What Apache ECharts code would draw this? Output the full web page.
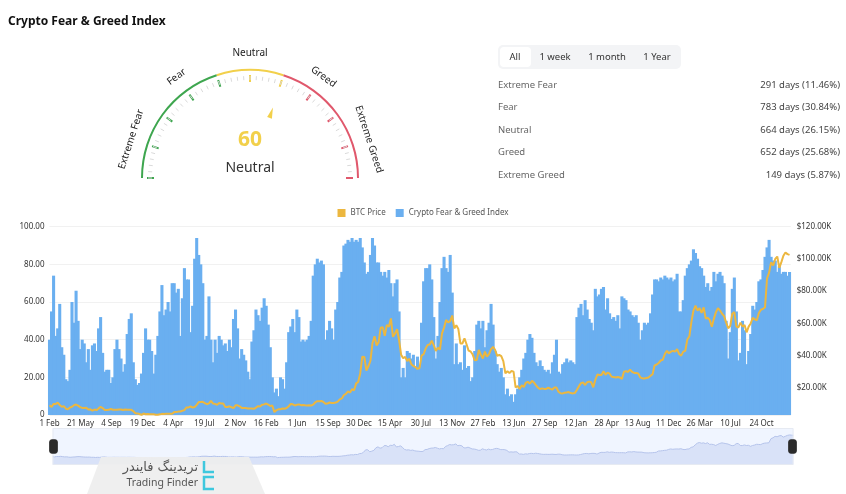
<!DOCTYPE html>
<html><head><meta charset="utf-8">
<style>html,body{margin:0;padding:0;background:#fff;}#chart{width:846px;height:494px;}</style>
<script src="https://cdn.jsdelivr.net/npm/echarts/dist/echarts.min.js"></script>
</head><body><div id="chart"></div>
<script>
// ---------- DATA ----------
const chartTitle = 'Crypto Fear & Greed Index';
const tickLabels = ['1 Feb','21 May','4 Sep','19 Dec','4 Apr','19 Jul','2 Nov','16 Feb','1 Jun','15 Sep','30 Dec','15 Apr','30 Jul','13 Nov','27 Feb','13 Jun','27 Sep','12 Jan','28 Apr','13 Aug','11 Dec','26 Mar','10 Jul','24 Oct'];
const SAMPLE_STEP = 7;      // one sample every 7 daily records
const TICK_STEP = 106;      // one tick label every 106 daily records
const LAST_RECORD = 2538;

const fearGreed = [
40,55,74,42,46,59,36,32,19,18, 24,60,49,66,50,35,40,38,28,35, 24,37,38,34,46,52,33,23,24,24,
17,20,35,40,35,30,23,27,43,51, 54,28,19,16,17,22,33,46,40,40, 34,22,32,42,55,69,53,56,60,55,
70,70,65,67,42,62,78,72,72,44, 58,83,94,85,80,70,40,42,63,40, 28,40,33,42,40,37,38,34,40,36,
51,56,46,30,35,32,29,23,19,39, 45,56,53,50,57,62,58,48,36,20, 12,14,10,20,19,14,28,44,47,51,
44,
56,52,39,40,39,40,42,50,74,80, 83,81,82,80,40,45,50,46,40,56, 60,73,76,90,91,93,92,94,92,93,
92,94,89,81,75,76,85,94,90,81, 81,76,74,76,73,77,70,63,70,72, 55,20,25,20,34,33,30,32,25,31,
26,
49,71,78,78,80,72,52,30,42,60, 78,84,78,76,85,65,27,38,27,28, 24,37,25,26,18,20,34,48,50,46,
50,36,45,49,59,48,34,27,23,25, 20,11,14,10,11,7,11,14,20,24, 30,33,40,43,41,33,28,26,29,26,
24,
23,24,22,28,32,40,23,22,27,28, 30,28,29,28,27,52,57,59,53,61, 56,51,49,45,67,63,64,67,68,56,
62,54,51,52,50,53,46,63,62,61, 56,55,53,52,53,49,40,45,49,48, 49,54,64,72,72,71,73,72,74,73,
72,73,71,72,75,55,55,61,74,78, 80,82,88,86,83,79,78,74,68,70, 66,68,76,71,75,76,74,70,50,30,
44,67,73,55,29,33,50,45,27,34, 43,58,56,60,71,72,77,84,89,93, 84,82,82,76,79,75,76,76,74,76
];

const btcPriceK = [
9.2,8.2,10.1,10.0,10.9,9.4,8.3,8.7,7.1,6.8, 7.9,8.3,9.3,9.7,9.0,8.1,7.6,7.5,7.7,6.6,
6.7,5.9,6.6,6.2,7.3,8.2,7.5,6.3,6.3,6.4, 6.9,6.5,6.5,6.4,6.6,6.6,6.3,6.6,6.5,6.4,
6.4,5.6,4.3,4.2,3.8,3.3,4.1,3.7,3.8,3.6, 3.6,3.6,3.4,3.4,3.6,3.9,3.8,3.9,3.9,4.0,
4.0,5.0,5.0,5.3,5.4,5.8,6.2,7.9,7.9,8.6, 7.8,8.2,9.5,11.2,11.2,11.4,10.6,9.9,10.4,11.9,
10.3,10.1,9.5,10.6,10.4,10.3,8.1,8.2,8.6,8.0, 7.5,9.2,9.2,8.6,7.6,7.5,7.5,7.2,7.2,7.2,
7.0,7.8,8.7,8.4,9.5,9.8,10.3,9.6,8.8,9.1, 5.0,6.2,6.7,6.8,7.3,7.1,7.5,8.6,10.0,9.8,
9.1,
9.5,9.8,9.3,9.4,9.2,9.1,9.2,9.1,9.6,11.1, 11.8,11.8,11.9,11.3,10.2,10.3,11.0,10.7,10.6,10.9,
11.5,12.9,13.5,15.6,16.3,17.8,17.1,19.2,18.5,22.8, 23.7,29.0,39.4,39.2,30.8,33.4,36.9,47.9,52.1,46.3,
48.4,57.3,57.7,52.3,59.0,58.0,63.1,51.7,53.6,56.4, 49.7,40.6,38.4,39.2,36.7,38.1,34.7,33.6,32.9,31.8,
32.3,
40.0,40.9,44.4,46.7,46.9,49.3,46.4,43.0,44.9,43.8, 53.8,57.4,62.2,60.6,61.4,64.9,56.9,58.9,56.5,47.6,
47.6,50.8,47.1,43.1,42.6,40.7,37.2,37.3,43.6,40.5, 38.3,42.5,39.4,40.9,44.0,45.5,43.5,39.9,40.5,39.7,
36.6,29.0,30.3,29.2,30.5,30.1,20.4,21.1,19.3,21.6, 20.6,23.2,23.8,22.6,24.4,23.3,21.6,20.1,19.3,19.7,
19.4,
19.4,20.2,19.4,19.0,20.3,20.2,17.6,16.7,16.6,17.0, 17.2,17.4,16.8,16.6,16.9,18.8,21.1,23.0,23.4,21.8,
23.5,23.9,23.5,20.4,25.0,28.3,28.0,28.0,30.4,28.2, 29.5,28.8,26.9,26.8,26.5,26.8,26.5,25.6,30.0,30.4,
29.9,31.4,29.9,29.3,29.2,29.0,26.5,26.0,25.8,26.2, 26.5,27.5,28.5,34.0,34.5,35.5,37.0,37.5,41.0,43.0,
41.5,42.5,43.0,42.5,44.0,41.0,40.0,42.5,43.0,50.0, 52.0,61.0,68.0,71.0,68.0,69.5,66.5,70.0,63.0,63.5,
62.0,58.0,63.0,67.0,69.5,68.0,66.0,64.5,60.5,57.0, 58.5,66.0,67.0,58.0,57.5,60.5,58.0,59.0,54.5,58.0,
60.0,63.5,62.5,62.0,66.5,68.5,69.0,70.0,88.0,91.5, 98.0,96.0,100.0,101.5,94.5,98.0,102.0,104.0,103.0,102.5
];

const seriesNames = ['BTC Price', 'Crypto Fear & Greed Index'];
const gaugeValue = 60;
const gaugeState = 'Neutral';
const gaugeBands = [[0.4, '#3ea64f'], [0.6, '#f2d04b'], [1, '#e0586c']];
const gaugeZoneLabels = {10: 'Extreme Fear', 30: 'Fear', 50: 'Neutral', 70: 'Greed', 90: 'Extreme Greed'};
const tabLabels = ['All', '1 week', '1 month', '1 Year'];
const zoneNames = ['Extreme Fear', 'Fear', 'Neutral', 'Greed', 'Extreme Greed'];
const zoneDays = [291, 783, 664, 652, 149];
const zonePcts = ['11.46', '30.84', '26.15', '25.68', '5.87'];
const watermarkFa = 'تریدینگ فایندر';
const watermarkEn = 'Trading Finder';

// ---------- CHART ----------
const FONT = "'Noto Sans', 'Open Sans', 'DejaVu Sans', sans-serif";
const chart = echarts.init(document.getElementById('chart'), null, {renderer: 'canvas'});

const tabCenters = [515, 555, 607, 657];
const graphics = [
  {type: 'rect', shape: {x: 498, y: 45, width: 183, height: 24, r: 5}, style: {fill: '#f3f4f6'}},
  {type: 'rect', shape: {x: 500, y: 47, width: 31, height: 20, r: 4}, style: {fill: '#ffffff'}}
];
tabLabels.forEach((t, k) => graphics.push({type: 'text', x: tabCenters[k], y: 57,
  style: {text: t, align: 'center', verticalAlign: 'middle', fontSize: 9.5, fill: '#333', fontFamily: FONT}}));
zoneNames.forEach((n, k) => {
  const y = 85 + k * 22.5;
  graphics.push({type: 'text', x: 498, y: y, style: {text: n, verticalAlign: 'middle', fontSize: 9.5, fill: '#666', fontFamily: FONT}});
  graphics.push({type: 'text', x: 840, y: y, style: {text: zoneDays[k] + ' days (' + zonePcts[k] + '%)', align: 'right', verticalAlign: 'middle', fontSize: 9.5, fill: '#444', fontFamily: FONT}});
});
// watermark overlay
graphics.push({type: 'polygon', z: 100, shape: {points: [[101, 457], [249, 457], [265, 494], [87, 494]]}, style: {fill: 'rgba(238,238,238,0.95)'}});
graphics.push({type: 'text', z: 101, x: 198, y: 468, style: {text: watermarkFa, align: 'right', verticalAlign: 'middle', fontSize: 13, fill: '#555', fontFamily: "'DejaVu Sans', sans-serif"}});
graphics.push({type: 'text', z: 101, x: 198, y: 483, style: {text: watermarkEn, align: 'right', verticalAlign: 'middle', fontSize: 10.5, fill: '#555', fontFamily: FONT}});
graphics.push({type: 'polyline', z: 101, shape: {points: [[204, 461], [204, 472], [214, 472]]}, style: {stroke: '#3ec8de', lineWidth: 2.5, fill: null}});
graphics.push({type: 'polyline', z: 101, shape: {points: [[214, 477], [204, 477], [204, 489], [214, 489]]}, style: {stroke: '#3ec8de', lineWidth: 2.5, fill: null}});

const option = {
  animation: false,
  textStyle: {fontFamily: FONT},
  title: {text: chartTitle, left: 8, top: 16, padding: 0, textStyle: {fontSize: 12, fontWeight: 'bold', color: '#111', fontFamily: FONT}},
  legend: {data: seriesNames, top: 204, left: 'center', icon: 'rect', itemWidth: 8, itemHeight: 8, itemGap: 10,
    textStyle: {fontSize: 8, color: '#555'}},
  grid: {left: 49.5, right: 55.3, top: 226.7, bottom: 79},
  xAxis: {type: 'value', min: 0, max: LAST_RECORD, interval: TICK_STEP,
    axisLine: {show: false}, axisTick: {show: false}, splitLine: {show: false},
    axisLabel: {fontSize: 8, color: '#333', margin: 5, showMaxLabel: false,
      formatter: v => (v % TICK_STEP === 0 && tickLabels[v / TICK_STEP]) ? tickLabels[v / TICK_STEP] : ''}},
  yAxis: [
    {type: 'value', min: 0, max: 100, interval: 20,
      axisLine: {show: false}, axisTick: {show: false},
      splitLine: {lineStyle: {color: '#f1f1f1'}},
      axisLabel: {fontSize: 8, color: '#333', margin: 5, formatter: v => v === 0 ? '0' : v.toFixed(2)}},
    {type: 'value', min: 3.2, max: 120, splitNumber: 5, position: 'right',
      axisLine: {show: false}, axisTick: {show: false}, splitLine: {show: false},
      axisLabel: {fontSize: 8, color: '#333', margin: 6, showMinLabel: false, formatter: v => '$' + v.toFixed(2) + 'K'}}
  ],
  dataZoom: [{type: 'slider', xAxisIndex: 0, left: 50, right: 55, top: 428, height: 37,
    start: 0, end: 100, showDetail: false, brushSelect: false, moveHandleSize: 0,
    borderColor: '#e6eaf2', backgroundColor: 'rgba(0,0,0,0)', fillerColor: 'rgba(135,175,274,0.12)',
    handleIcon: 'path://M2,0h4a2,2,0,0,1,2,2v10a2,2,0,0,1-2,2h-4a2,2,0,0,1-2-2v-10a2,2,0,0,1,2-2zM4,3v8',
    handleSize: '36%', handleStyle: {color: '#2b2b2b', borderColor: '#2b2b2b'},
    dataBackground: {lineStyle: {color: '#bcc7e8', width: 1}, areaStyle: {color: '#d3dbf2', opacity: 0.6}},
    selectedDataBackground: {lineStyle: {color: '#bcc7e8', width: 1}, areaStyle: {color: '#d3dbf2', opacity: 0.6}}
  }],
  graphic: graphics,
  series: [
    {name: seriesNames[0], type: 'line', xAxisIndex: 0, yAxisIndex: 1, z: 3,
      data: btcPriceK.map((v, i) => [i * SAMPLE_STEP, v]),
      showSymbol: false, symbol: 'none', itemStyle: {color: '#ecb73f'},
      lineStyle: {width: 2, color: '#ecb73f'}},
    {name: seriesNames[1], type: 'bar', xAxisIndex: 0, yAxisIndex: 0, z: 2,
      data: fearGreed.map((v, i) => [i * SAMPLE_STEP, v]),
      barWidth: '150%', itemStyle: {color: '#6aaff0'}},
    {type: 'gauge', center: [250, 178], radius: 109, startAngle: 180, endAngle: 0,
      min: 0, max: 100, splitNumber: 10,
      axisLine: {lineStyle: {width: 2, color: gaugeBands}},
      axisTick: {splitNumber: 5, distance: 5, length: 4, lineStyle: {color: '#dadada', width: 1}},
      splitLine: {distance: 4, length: 7, lineStyle: {color: 'auto', width: 2}},
      axisLabel: {distance: -27, rotate: 'tangential', color: '#222', fontSize: 10,
        formatter: v => gaugeZoneLabels[v] || ''},
      pointer: {icon: 'path://M2,0L4,14L0,14Z', length: 11, width: 5, offsetCenter: [0, '-58%'], itemStyle: {color: 'auto'}},
      anchor: {show: false},
      title: {offsetCenter: [0, '-9%'], fontSize: 14, color: '#333'},
      detail: {offsetCenter: [0, '-35%'], fontSize: 21, fontWeight: 'bold', color: 'auto', formatter: '{value}'},
      data: [{value: gaugeValue, name: gaugeState}]}
  ]
};
chart.setOption(option);
</script>
</body></html>
